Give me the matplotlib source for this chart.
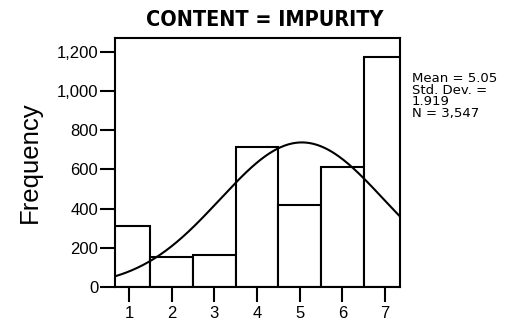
import numpy as np
import matplotlib
matplotlib.use("Agg")
import matplotlib.pyplot as plt

# Histogram of CONTENT for the IMPURITY group
values = [1, 2, 3, 4, 5, 6, 7]
counts = [310, 153, 165, 715, 420, 610, 1174]
mean = 5.05
std_dev = 1.919
n_total = 3547
y_ticks = [0, 200, 400, 600, 800, 1000, 1200]
y_tick_labels = ["0", "200", "400", "600", "800", "1,000", "1,200"]

fig = plt.figure(figsize=(5.07, 3.20), dpi=100)
ax = fig.add_axes([115 / 507, 1 - 287 / 320, 285 / 507, 249 / 320])

lw = 1.5
ax.bar(values, counts, width=1.0, align="center", facecolor="white",
       edgecolor="black", linewidth=lw, zorder=2, clip_on=True)

# Normal curve scaled to counts (bin width 1)
xmin, xmax = 0.67, 7.35
xs = np.linspace(xmin, xmax, 300)
pdf = np.exp(-0.5 * ((xs - mean) / std_dev) ** 2) / (std_dev * np.sqrt(2 * np.pi))
ax.plot(xs, n_total * 1.0 * pdf, color="black", linewidth=lw, zorder=3)

sans = "Liberation Sans"
ax.set_xlim(xmin, xmax)
ax.set_ylim(0, 1270)
ax.set_xticks(values)
ax.set_xticklabels([str(v) for v in values], fontsize=12, family=sans)
ax.set_yticks(y_ticks)
ax.set_yticklabels(y_tick_labels, fontsize=12, family=sans)
ax.tick_params(direction="out", length=11, width=lw, colors="black")
ax.tick_params(axis="y", pad=1)
ax.tick_params(axis="x", pad=3)
for sp in ax.spines.values():
    sp.set_linewidth(lw)
    sp.set_color("black")

ax.set_ylabel("Frequency", fontsize=18.5, family=sans, labelpad=11)

fig.text(265 / 507, 1 - 20 / 320, "CONTENT = IMPURITY", ha="center", va="center",
         fontsize=15.5, fontweight="bold", fontstretch="condensed",
         family=["DejaVu Sans"])

stats = f"Mean = {mean:.2f}\nStd. Dev. =\n{std_dev:.3f}\nN = {n_total:,}"
fig.text(412 / 507, 1 - 72 / 320, stats, ha="left", va="top", fontsize=9.5,
         linespacing=0.85)

fig.savefig("out.png", dpi=100)
